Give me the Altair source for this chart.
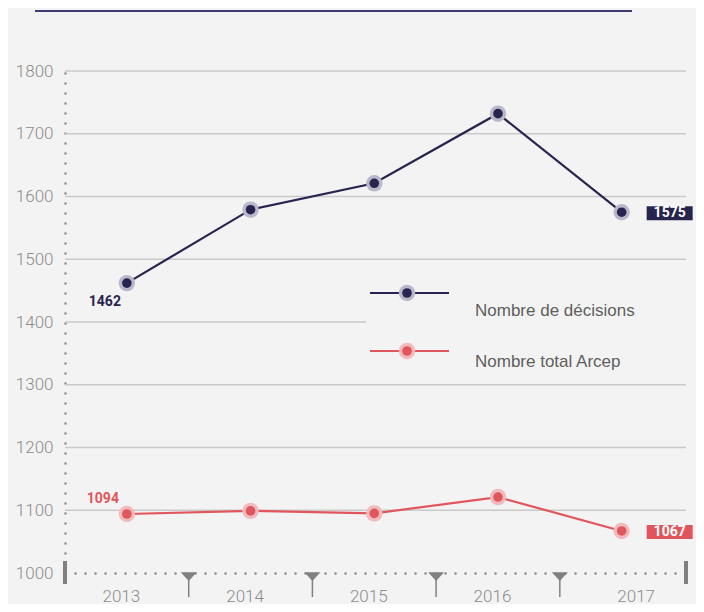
import altair as alt
import pandas as pd

# ---- data ----
years = [2013, 2014, 2015, 2016, 2017]
decisions = [1462, 1579, 1621, 1732, 1575]
arcep = [1094, 1099, 1095, 1121, 1067]
series_names = ["Nombre de décisions", "Nombre total Arcep"]
y_ticks = [1000, 1100, 1200, 1300, 1400, 1500, 1600, 1700, 1800]

NAVY = "#27244f"
NAVY_HALO = "#b9b8ca"
RED = "#e0565c"
RED_HALO = "#f2babc"
GRAY = "#8c8c8c"
DARKGRAY = "#808080"
BG = "#f3f3f3"
NUM_FONT = "Roboto"
TXT_FONT = "Liberation Sans"

rows = []
for name, vals in zip(series_names, [decisions, arcep]):
    for yr, v in zip(years, vals):
        rows.append({"year": yr, "value": v, "series": name})
df = pd.DataFrame(rows)
grid_df = pd.DataFrame({"value": y_ticks[1:]})
tri_df = pd.DataFrame({"year": [y + 0.5 for y in years[:-1]], "value": [y_ticks[0]] * (len(years) - 1)})
one = pd.DataFrame({"a": [0]})

W, H = 621, 502

xscale = alt.Scale(domain=[2012.5, 2017.52], nice=False, zero=False)
yscale = alt.Scale(domain=[1000, 1800], nice=False, zero=False)

xaxis = alt.Axis(
    values=years, format="d", title=None, grid=False, ticks=False,
    domainColor=GRAY, domainDash=[0.1, 9.9], domainWidth=2.5, domainCap="round",
    labelFont=NUM_FONT, labelFontWeight=300, labelFontSize=17, labelColor=GRAY,
    labelPadding=15,
    labelOffset={"condition": {"test": "datum.value == 2017", "value": 14}, "value": -6},
)
yaxis = alt.Axis(
    values=y_ticks, format="d", title=None, grid=False, ticks=False,
    domainColor=GRAY, domainDash=[0.1, 9.9], domainWidth=2.5, domainCap="round",
    labelFont=NUM_FONT, labelFontWeight=300, labelFontSize=17, labelColor=GRAY,
    labelPadding=12,
)

X = alt.X("year:Q", scale=xscale, axis=xaxis)
Y = alt.Y("value:Q", scale=yscale, axis=yaxis)

grid = alt.Chart(grid_df).mark_rule(color="#c9c9c9", strokeWidth=1.5).encode(y=Y)

# legend background (covers part of the grid)
legend_bg = alt.Chart(one).mark_rect(color=BG).encode(
    x=alt.value(301), x2=alt.value(W), y=alt.value(200), y2=alt.value(306)
)

stems = alt.Chart(tri_df).mark_rule(color=DARKGRAY, strokeWidth=1.5).encode(
    x=X, y=alt.value(H), y2=alt.value(H + 24)
)
tris = alt.Chart(tri_df).mark_point(
    shape="M-1,-0.1L1,-0.1L0,1Z", filled=True, size=256, color=DARKGRAY, opacity=1
).encode(x=X, y=Y)

end_bars = [
    alt.Chart(one).mark_rule(color=DARKGRAY, strokeWidth=4).encode(
        x=alt.value(xv), y=alt.value(H - 12), y2=alt.value(H + 11)
    )
    for xv in [0, W]
]

top_line = alt.Chart(one).mark_rule(color="#3f3d70", strokeWidth=2).encode(
    x=alt.value(-30), x2=alt.value(567), y=alt.value(-60)
)

series_layers = []
for name, c, hc in [(series_names[0], NAVY, NAVY_HALO), (series_names[1], RED, RED_HALO)]:
    base = alt.Chart(df).transform_filter(alt.datum.series == name).encode(x=X, y=Y)
    series_layers.append(base.mark_line(color=c, strokeWidth=2.2))
    series_layers.append(base.mark_circle(color=hc, size=270, opacity=1))
    series_layers.append(base.mark_circle(color=c, size=92, opacity=1))

first_navy = alt.Chart(df).transform_filter(
    (alt.datum.series == series_names[0]) & (alt.datum.year == years[0])
).encode(x=X, y=Y, text=alt.Text("value:Q", format="d"))
first_red = alt.Chart(df).transform_filter(
    (alt.datum.series == series_names[1]) & (alt.datum.year == years[0])
).encode(x=X, y=Y, text=alt.Text("value:Q", format="d"))
lbl_1 = first_navy.mark_text(font=NUM_FONT, fontWeight="bold", fontSize=14, color=NAVY,
                             dx=-22, dy=19, align="center", baseline="middle")
lbl_2 = first_red.mark_text(font=NUM_FONT, fontWeight="bold", fontSize=14, color=RED,
                            dx=-24, dy=-15, align="center", baseline="middle")

box_layers = []
for name, c in [(series_names[0], NAVY), (series_names[1], RED)]:
    last = alt.Chart(df).transform_filter(
        (alt.datum.series == name) & (alt.datum.year == years[-1])
    ).encode(x=X, y=Y, text=alt.Text("value:Q", format="d"))
    box_layers.append(last.mark_point(
        shape="M-1,-0.3043L1,-0.3043L1,0.3043L-1,0.3043Z", filled=True, size=2116,
        color=c, opacity=1, xOffset=48, yOffset=1
    ))
    box_layers.append(last.mark_text(
        font=NUM_FONT, fontWeight="bold", fontSize=14, color="white",
        dx=48, dy=1, align="center", baseline="middle"
    ))

legend_layers = []
for name, c, hc, ly, ty in [(series_names[0], NAVY, NAVY_HALO, 222, 240),
                            (series_names[1], RED, RED_HALO, 280, 291)]:
    legend_layers.append(alt.Chart(one).mark_rule(color=c, strokeWidth=2).encode(
        x=alt.value(305), x2=alt.value(384), y=alt.value(ly)))
    legend_layers.append(alt.Chart(one).mark_circle(color=hc, size=270, opacity=1).encode(
        x=alt.value(342), y=alt.value(ly)))
    legend_layers.append(alt.Chart(one).mark_circle(color=c, size=92, opacity=1).encode(
        x=alt.value(342), y=alt.value(ly)))
    legend_layers.append(alt.Chart(one).mark_text(
        text=name, font=TXT_FONT, fontSize=17, color="#5e5e5e", align="left", baseline="middle"
    ).encode(x=alt.value(410), y=alt.value(ty)))

chart = alt.layer(
    grid, legend_bg, stems, tris, *end_bars, top_line,
    *series_layers, lbl_1, lbl_2, *box_layers, *legend_layers
).properties(
    width=W, height=H,
    autosize=alt.AutoSizeParams(type="none"),
    padding={"left": 57, "top": 63, "right": 10, "bottom": 31},
    background=BG,
).configure_view(stroke=None)

chart.save("out.html", embed_options={"renderer": "svg", "actions": False})
